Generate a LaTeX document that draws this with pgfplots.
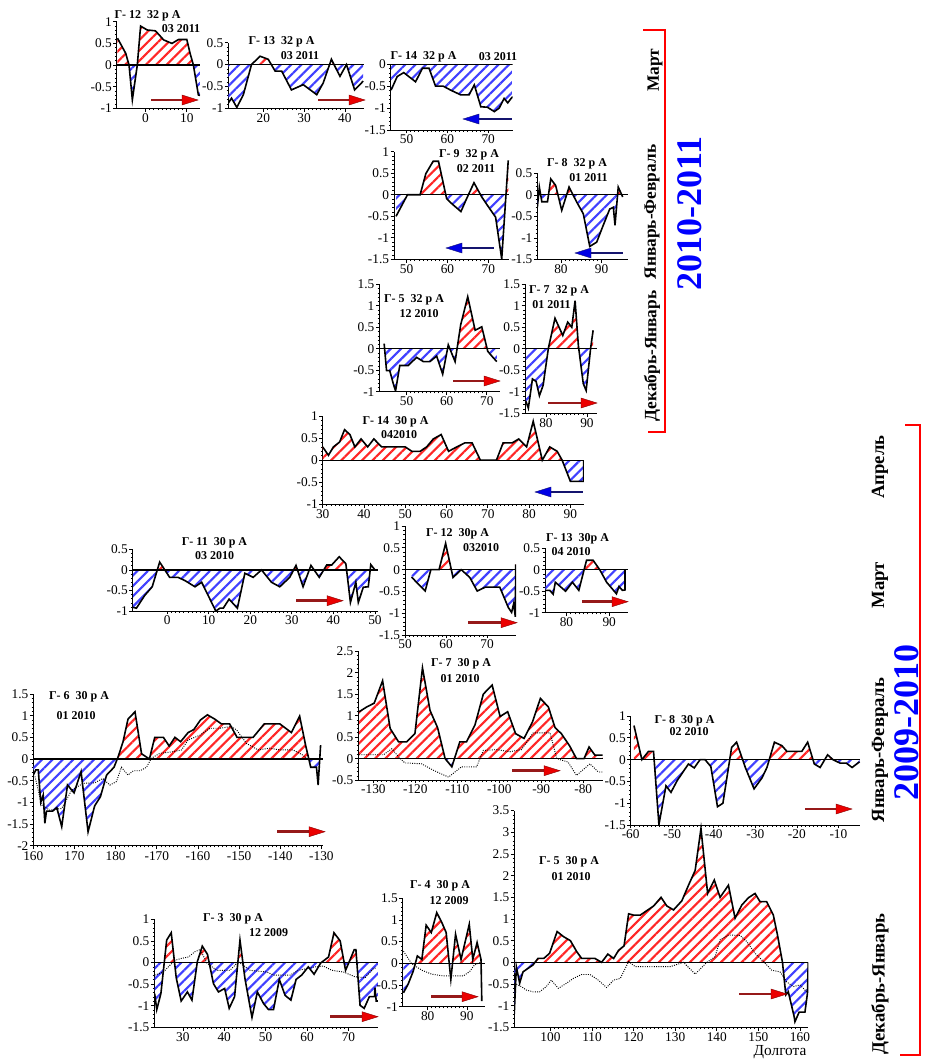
\documentclass[border=0pt]{standalone}
\usepackage{fontspec}
\setmainfont{Liberation Serif}
\usepackage{pgfplots}
\usepackage{pgfplotstable}
\pgfplotsset{compat=1.18}
\usetikzlibrary{patterns.meta}
\definecolor{darr}{RGB}{150,25,25}
\definecolor{harr}{RGB}{235,0,0}
\definecolor{dbarr}{RGB}{20,20,110}
\definecolor{hbarr}{RGB}{0,0,230}
\tikzset{
 rfill/.style={pattern={Lines[angle=45,distance=5.5pt,line width=1.6pt]}, pattern color=red!85},
 bfill/.style={pattern={Lines[angle=45,distance=5.5pt,line width=1.6pt]}, pattern color=blue!75},
 cur/.style={black,line width=1.2pt}, zer/.style={black,line width=0.9pt},
 dot/.style={black,densely dotted,line width=0.7pt}}
\pgfplotsset{panel/.style={scale only axis, anchor=north west,
 axis x line=bottom, axis y line=left, axis line style={-,line width=0.6pt},
 tick align=outside, major tick length=2.5pt, minor tick length=1.3pt,
 minor x tick num=9, minor y tick num=4, tick style={black,line width=0.5pt},
 ticklabel style={font=\fontsize{10}{11}\selectfont, inner sep=1pt},
 /pgf/number format/assume math mode=true}}
% #1 table, #2 xmin, #3 xmax, #4 ymin, #5 ymax
\newcommand{\panelfill}[5]{%
 \begin{scope}\clip (axis cs:#2,0) rectangle (axis cs:#3,#5);
 \addplot[rfill,draw=none] table {#1} \closedcycle;\end{scope}
 \begin{scope}\clip (axis cs:#2,#4) rectangle (axis cs:#3,0);
 \addplot[bfill,draw=none] table {#1} \closedcycle;\end{scope}
 \addplot[zer] coordinates {(#2,0)(#3,0)};
 \addplot[cur] table {#1};}
\newcommand{\rarr}[3]{%
 \draw[darr,line width=2.2pt] (#1,#3) -- (#2-13,#3);
 \draw[fill=harr,draw=red!50!black,line width=0.3pt] (#2-16,#3-5) -- (#2,#3) -- (#2-16,#3+5) -- cycle;}
\newcommand{\larr}[3]{%
 \draw[dbarr,line width=2.2pt] (#1+13,#3) -- (#2,#3);
 \draw[fill=hbarr,draw=dbarr,line width=0.3pt] (#1+16,#3-5) -- (#1,#3) -- (#1+16,#3+5) -- cycle;}

\pgfplotstableread{
x y
-6.8 0.62
-4.8 0.27
-4 0
-3.2 -0.8
-2 0
-1.2 0.9
0.4 0.81
2.4 0.79
4.4 0.58
6.4 0.5
8 0.59
10 0.59
10.8 0.27
11.6 0
12.8 -0.69
13.2 -0.7
}\tA
\pgfplotstableread{
x y
11.4 -0.88
12.2 -0.77
13.5 -0.98
15.1 -0.69
17.1 0
19.2 0.19
21.2 0.12
22.9 -0.15
24.5 -0.15
26.9 -0.58
29.8 -0.46
33.1 -0.69
34.7 -0.42
36.7 0.12
38.8 -0.27
40.4 0
42.4 -0.58
44.5 -0.38
}\tB
\pgfplotstableread{
x y
46.2 -0.59
47.7 -0.28
49.3 -0.19
52.2 -0.4
53.9 -0.09
55.5 -0.09
57.1 -0.5
59 -0.5
60.8 -0.59
63.3 -0.7
65.3 -0.7
66.6 -0.47
68.2 -0.97
69.8 -0.98
71.5 -1.08
72.7 -1.0
73.9 -0.78
74.8 -0.88
75.6 -0.78
76 -0.74
}\tC
\pgfplotstableread{
x y
47.4 -0.5
48.8 -0.25
50.2 0
53.3 0
54.7 0.49
56.5 0.78
57.8 0.78
59.8 -0.09
61.1 -0.21
63.3 -0.39
64.7 -0.09
66.5 0.28
68.4 -0.05
70.4 -0.33
71.8 -0.52
73.3 -1.49
74.9 0.8
}\tD
\pgfplotstableread{
x y
74.2 -0.29
74.7 0.18
75.3 -0.16
76.7 -0.16
77.5 0.37
78.7 0.22
80.2 -0.36
82 0.18
83.9 -0.17
85.5 -0.44
87.1 -1.2
88.8 -1.1
90.4 -0.71
92 -0.33
92.9 -0.29
93.3 -0.71
94.1 0.18
95.2 -0.05
}\tE
\pgfplotstableread{
x y
44.4 0.12
45 -0.51
45.8 -0.51
46.7 -0.82
47.25 -0.98
48.3 -0.39
50.4 -0.39
52.5 -0.2
54.2 -0.3
55.8 -0.3
57.5 -0.17
59 -0.59
60.4 0.09
62.1 -0.3
63.5 0.56
65.25 1.21
67.1 0.43
68.75 0.51
70.25 -0.06
71.25 -0.17
72.5 -0.3
}\tF
\pgfplotstableread{
x y
75.1 -1.22
75.7 -1.38
76.7 -0.7
77.6 -0.76
78.4 -1.09
79.3 -0.85
80.6 0.02
82.2 0.71
84.1 0.31
85.3 0.62
86.3 0.5
87.1 1.12
87.9 0.08
89.1 -0.81
89.8 -0.97
90.9 0.02
91.5 0.43
}\tG
\pgfplotstableread{
x y
30 0.3
31.4 0.11
32.6 0.3
34.1 0.41
35.3 0.69
36.6 0.58
37.8 0.3
39.3 0.48
40.9 0.3
42.4 0.48
44.3 0.3
50 0.3
51.6 0.2
53.6 0.2
55.2 0.3
56.8 0.48
58.7 0.58
60.5 0.2
62.5 0.3
64.4 0.39
66.2 0.39
68.2 0
72.1 0
73.7 0.39
75.9 0.39
77.5 0.48
79.4 0.3
81 0.88
83.2 0
85 0.3
86.8 0.2
88 0
90 -0.48
93.2 -0.48
93.2 0
}\tH
\pgfplotstableread{
x y
-8.2 -0.91
-7.4 -0.93
-5.4 -0.62
-3.6 -0.41
-1.8 0.19
0.6 -0.18
2.6 -0.18
4.3 -0.26
6.7 -0.41
8.3 -0.3
10.3 -0.71
11.7 -1.0
12.7 -0.93
13.5 -0.93
14.9 -0.71
16.9 -0.93
18.7 -0.08
20.7 -0.18
22.7 0
25.1 -0.3
27.1 -0.41
29.5 -0.18
31 0.11
32.7 -0.41
34.6 0.11
36.6 -0.18
38.4 0.12
39.6 0.12
41.4 0.32
43 0.15
44.1 -0.79
45.4 -0.3
46 -0.79
47.2 -0.42
48.4 -0.41
49 0.13
50 0
}\tI
\pgfplotstableread{
x y
51.6 -0.17
53.1 -0.32
54.9 -0.49
56.3 0
58.3 0
59.9 0.6
61.7 -0.18
63.7 0
65.8 -0.18
67.6 -0.49
69.6 -0.4
73.1 -0.4
75.2 -0.87
76 -0.98
76.5 -0.78
76.9 -1.08
77 0.12
}\tJ
\pgfplotstableread{
x y
75.1 -0.48
76.1 -0.48
76.9 -0.57
77.4 -0.29
79.8 -0.5
81.4 -0.29
82.9 -0.48
84.7 0.22
86.25 0.22
87.8 0
89.4 -0.29
91.7 -0.56
92.3 -0.39
93.1 -0.48
93.7 -0.47
93.7 0
}\tK
\pgfplotstableread{
x y
160 -0.37
160.6 -0.25
161.2 -0.25
161.8 -1.0
162.4 -0.83
162.8 -1.48
163.2 -1.2
164.7 -1.2
165.7 -1.12
166.9 -1.56
168.3 -0.6
169.9 -0.78
171.6 -0.29
173.3 -1.68
174.9 -1.08
176.3 -0.87
177.8 -0.37
179.6 -0.19
180.6 0.05
181.8 0.4
183 0.92
184.7 1.09
186.3 0.12
188.2 0
189.5 0.5
191.6 0.5
193 0.3
194.4 0.5
195.8 0.4
197.6 0.61
199 0.68
200.6 0.9
202.3 1.02
204.1 0.92
205.7 0.81
207.7 0.81
209.5 0.5
213.4 0.5
216.1 0.81
219.9 0.81
222.7 0.61
224.7 0.99
226.2 0.3
227.4 -0.19
228.8 -0.19
229.2 -0.6
229.8 0.32
}\tL
\pgfplotstableread{
x y
-133.4 1.09
-131.6 1.2
-129.8 1.29
-127.8 1.81
-126 0.7
-124 0.39
-122.1 0.39
-120.1 0.58
-118.3 2.11
-116.5 1.12
-114.7 0.72
-112.9 0
-111.3 -0.19
-109.4 0.39
-107.8 0.39
-105.8 0.78
-103.8 1.5
-101.7 1.71
-99.8 0.98
-98 1.09
-96.1 0.58
-94.1 0.47
-92.1 0.85
-90.2 1.4
-88.3 1.2
-86.7 0.72
-85.2 0.58
-83.2 0.29
-81.6 0
-79.8 0
-78.6 0.27
-77.2 0.08
-75.4 0.08
}\tM
\pgfplotstableread{
x y
-59.2 0.78
-57.3 0
-55.7 0.19
-54.5 0.19
-53.2 -1.49
-51.5 -0.6
-50.3 -0.75
-48.8 -0.48
-46.1 -0.1
-44.7 -0.19
-43.3 0
-42.1 0
-40.7 -0.16
-39.1 -1.08
-37.8 -1.0
-35.7 0.28
-34.5 0.4
-32.4 -0.18
-30.3 -0.67
-28.4 -0.42
-27.2 -0.18
-25.4 0.4
-23.6 0.32
-22.4 0.19
-18.8 0.19
-17.4 0.4
-15.8 -0.1
-14.4 -0.18
-12.6 0.11
-11.3 0
-9.6 -0.08
-8.1 -0.08
-6.7 -0.18
-4.9 -0.05
}\tN
\pgfplotstableread{
x y
23.2 -0.72
23.7 -1.09
24.7 -0.72
26.1 0.52
27.2 0.69
28.4 -0.35
29.6 -0.89
31.1 -0.68
32.2 -0.87
33.5 0.02
34.7 0.38
35.95 0.19
37.4 -0.49
38.6 -0.68
40.1 -0.6
41.2 -1.06
42.5 -0.79
43.8 0.52
45 -0.37
46.7 -1.27
48 -0.68
49.5 -0.95
50.7 -1.09
51.9 -1.09
53.3 -0.39
54.7 -0.76
56.1 -0.87
57.35 -0.39
58.7 -0.29
60.3 -0.1
61.7 -0.27
63.3 -0.01
65.2 0.13
66.5 0.69
68 0.5
69.3 -0.18
70.5 0.09
71.4 0.3
71.8 0.3
72.8 -0.99
73.8 -1.06
75.05 -0.79
76.3 -0.79
76.4 -0.58
76.7 -0.89
77.1 -0.89
}\tO
\pgfplotstableread{
x y
73.8 -0.68
75 -0.48
76.3 -0.18
77.35 0.17
78.5 0.09
79.6 0.88
80.9 0.71
82.3 1.17
83.6 0.94
84.7 0.71
85.9 -0.37
87.1 0.67
88.5 0.09
90.6 0.9
91.5 0.09
92.6 0.48
93.6 0.09
93.8 -0.87
}\tP
\pgfplotstableread{
x y
91.3 -1.19
91.8 -0.1
92.6 -0.48
93.4 -0.22
94.6 -0.14
95.8 -0.06
97 0.09
98.4 0.09
99.8 0.21
101.6 0.71
103.2 0.59
104.8 0.5
106.3 0.25
107.5 0.09
110.7 0.09
112.3 0
113.8 0.19
115.2 0.09
116.4 0.28
117.7 0.38
118.8 1.12
120 1.09
121.6 1.09
124.8 1.3
126.6 1.5
128 1.3
129.6 1.21
131.6 1.42
133.2 1.78
134.8 2.12
136.2 3.09
137.8 1.59
139.4 1.9
140.8 1.5
142.8 1.78
144.4 1.02
146 1.32
147.6 1.49
149.2 1.59
150.4 1.4
152 1.4
153.6 1.09
154.6 0.63
155.8 0
156.6 -0.75
157.2 -0.68
158.6 -1.25
158.8 -1.37
159.8 -1.15
161.2 -1.15
161.8 -0.72
162 0
}\tQ
\begin{document}
\begin{tikzpicture}
\path[use as bounding box] (0,0) rectangle (696pt,-795.75pt);
% P1
\begin{axis}[panel, at={(87.5pt,-16.3pt)}, width=62.5pt, height=65pt, xmin=-7, xmax=13.2, ymin=-1, ymax=1, xtick={0,10}, ytick={-1,-0.5,0,0.5,1}]
\panelfill{\tA}{-7}{13.2}{-1}{1}
\end{axis}
% P2
\begin{axis}[panel, at={(171.2pt,-32pt)}, width=101.8pt, height=49.2pt, xmin=11.4, xmax=44.7, ymin=-1, ymax=0.5, xtick={20,30,40}, ytick={-1,-0.5,0,0.5}]
\panelfill{\tB}{11.4}{44.7}{-1}{0.5}
\end{axis}
% P3
\begin{axis}[panel, at={(293pt,-48.2pt)}, width=91.5pt, height=49.3pt, xmin=46.1, xmax=76, ymin=-1.5, ymax=0, xtick={50,60,70}, ytick={-1.5,-1,-0.5,0}]
\panelfill{\tC}{46.1}{76}{-1.5}{0.1}
\end{axis}
% P4
\begin{axis}[panel, at={(295.5pt,-113.8pt)}, width=86.3pt, height=80.7pt, xmin=46.9, xmax=75.1, ymin=-1.5, ymax=1, xtick={50,60,70}, ytick={-1.5,-1,-0.5,0,0.5,1}]
\panelfill{\tD}{46.9}{75.1}{-1.5}{1}
\end{axis}
% P5
\begin{axis}[panel, at={(403pt,-130pt)}, width=68pt, height=64.5pt, xmin=74.2, xmax=96.5, ymin=-1.5, ymax=0.5, xtick={80,90}, ytick={-1.5,-1,-0.5,0,0.5}]
\panelfill{\tE}{74.2}{96.5}{-1.5}{0.5}
\end{axis}
% P6
\begin{axis}[panel, at={(284.5pt,-213.2pt)}, width=90.5pt, height=80.6pt, xmin=43.2, xmax=73.3, ymin=-1, ymax=1.5, xtick={50,60,70}, ytick={-1,-0.5,0,0.5,1,1.5}]
\panelfill{\tF}{43.2}{73.3}{-1}{1.5}
\end{axis}
% P7
\begin{axis}[panel, at={(393.8pt,-213.2pt)}, width=53.8pt, height=96.8pt, xmin=74.9, xmax=92.4, ymin=-1.5, ymax=1.5, xtick={80,90}, ytick={-1.5,-1,-0.5,0,0.5,1,1.5}]
\panelfill{\tG}{74.9}{92.4}{-1.5}{1.5}
\end{axis}
% P8
\begin{axis}[panel, at={(242pt,-312pt)}, width=196pt, height=66.2pt, xmin=30, xmax=93.3, ymin=-1, ymax=1, xtick={30,40,...,90}, ytick={-1,-0.5,0,0.5,1}]
\panelfill{\tH}{30}{93.3}{-1}{1}
\end{axis}
% P9
\begin{axis}[panel, at={(99.5pt,-412pt)}, width=184.2pt, height=46.3pt, xmin=-8.3, xmax=50.8, ymin=-1, ymax=0.5, xtick={0,10,...,50}, ytick={-1,-0.5,0,0.5}]
\panelfill{\tI}{-8.3}{50.8}{-1}{0.5}
\end{axis}
% P10
\begin{axis}[panel, at={(303.8pt,-394.5pt)}, width=83.3pt, height=81.8pt, xmin=50, xmax=77.1, ymin=-1.5, ymax=1, xtick={50,60,70}, ytick={-1.5,-1,-0.5,0,0.5,1}]
\panelfill{\tJ}{50}{77.1}{-1.5}{1}
\end{axis}
% P11
\begin{axis}[panel, at={(408.8pt,-411.2pt)}, width=62.5pt, height=48.3pt, xmin=75, xmax=94.5, ymin=-1, ymax=0.5, xtick={80,90}, ytick={-1,-0.5,0,0.5}]
\panelfill{\tK}{75}{94.5}{-1}{0.5}
\end{axis}
% P12
\begin{axis}[panel, at={(25pt,-520.5pt)}, width=217.3pt, height=113.8pt, xmin=160, xmax=230.4, ymin=-2, ymax=1.5, xtick={160,170,...,230}, xticklabels={160,170,180,-170,-160,-150,-140,-130}, ytick={-2,-1.5,...,1.5}, xticklabel style={yshift=-1pt}]
\panelfill{\tL}{160}{230.4}{-2}{1.5}
\addplot[dot] coordinates {(160.4,-0.4)(161.2,-0.72)(162,-1.06)(164,-1.18)(166.9,-1.14)(169.3,-0.72)(172.1,-0.56)(174.9,-0.55)(176.9,-0.45)(178.6,-0.6)(180.2,-0.52)(181.4,-0.19)(183,-0.37)(184.3,-0.27)(185.9,-0.27)(187.5,-0.19)(188.7,0.02)(190.7,0.13)(194,0.17)(196,0.21)(197.6,0.44)(200.5,0.55)(202.9,0.71)(205.3,0.71)(208.1,0.75)(209.4,0.67)(211.8,0.36)(214.6,0.21)(217.4,0.25)(219.9,0.21)(223.1,0.21)(225.5,0.09)(226.7,-0.02)};
\end{axis}
% P13
\begin{axis}[panel, at={(268.7pt,-488.3pt)}, width=183.8pt, height=96.8pt, xmin=-133.6, xmax=-75.2, ymin=-0.5, ymax=2.5, xtick={-130,-120,...,-80}, ytick={-0.5,0,...,2.5}]
\panelfill{\tM}{-133.6}{-75.2}{-0.5}{2.5}
\addplot[dot] coordinates {(-133.4,0.09)(-127.6,0.09)(-125.6,0.23)(-124,0.04)(-122.5,-0.1)(-118.5,-0.12)(-115.7,-0.27)(-112.1,-0.43)(-109,-0.19)(-105.4,-0.19)(-103.8,0.19)(-100.6,0.21)(-97.5,0.16)(-94.7,0.21)(-91.9,0.6)(-87.9,0.6)(-86.3,0)(-83.6,-0.08)(-81.6,-0.39)(-78.4,-0.12)(-76.4,-0.31)(-75.2,-0.31)};
\end{axis}
% P14
\begin{axis}[panel, at={(473pt,-537pt)}, width=172pt, height=81.8pt, xmin=-60, xmax=-4.8, ymin=-1.5, ymax=1, xtick={-60,-50,...,-10}, ytick={-1.5,-1,-0.5,0,0.5,1}]
\panelfill{\tN}{-60}{-4.8}{-1.5}{1}
\end{axis}
% P15
\begin{axis}[panel, at={(115.7pt,-689.5pt)}, width=168pt, height=81pt, xmin=23.1, xmax=77.2, ymin=-1.5, ymax=1, xtick={30,40,...,70}, ytick={-1.5,-1,-0.5,0,0.5,1}]
\panelfill{\tO}{23.1}{77.2}{-1.5}{1}
\addplot[dot] coordinates {(23.2,-0.29)(25.3,-0.22)(26.9,-0.06)(28.1,0.05)(29.4,0.09)(31.4,0.13)(32.9,0.25)(34.2,0.3)(35.8,-0.01)(38.2,-0.18)(41.4,-0.18)(43.4,0.02)(46.25,-0.18)(50.3,-0.22)(51.9,-0.29)(55.9,-0.29)(57.9,-0.18)(61.9,-0.1)(63.9,-0.08)(66,-0.18)(68.8,-0.22)(71.6,-0.33)(74,-0.35)(76,-0.14)(76.8,-0.12)};
\end{axis}
% P16
\begin{axis}[panel, at={(302pt,-673.7pt)}, width=61.7pt, height=81.3pt, xmin=73.6, xmax=94.6, ymin=-1, ymax=1.5, xtick={80,90}, ytick={-1,-0.5,0,0.5,1,1.5}]
\panelfill{\tP}{73.6}{94.6}{-1}{1.5}
\addplot[dot] coordinates {(73.8,0.28)(75.9,-0.01)(78.5,-0.16)(81,-0.25)(84,-0.29)(89.1,-0.29)(90.7,-0.19)(91.9,-0.04)(93.4,0.02)};
\end{axis}
% P17
\begin{axis}[panel, at={(385.7pt,-608pt)}, width=220.5pt, height=162.5pt, xmin=91.3, xmax=162, ymin=-1.5, ymax=3.5, xtick={100,110,...,160}, ytick={-1.5,-1,...,3.5}]
\panelfill{\tQ}{91.3}{162}{-1.5}{3.5}
\addplot[dot] coordinates {(91.3,-0.48)(93,-0.56)(94.2,-0.64)(95.8,-0.68)(97.4,-0.68)(99,-0.56)(100.2,-0.41)(101.9,-0.6)(103.9,-0.48)(105.5,-0.37)(107.5,-0.28)(109.5,-0.28)(111.5,-0.41)(113.5,-0.58)(115.2,-0.41)(116.8,-0.37)(118.8,0.02)(120.4,-0.1)(124,-0.1)(128.8,-0.1)(132,0)(134.8,-0.27)(137.6,0)(139.6,0.13)(140.8,0.52)(142.8,0.63)(145.6,0.62)(147.2,0.48)(149.2,0.21)(151.2,0.02)(153.2,-0.18)(155.2,-0.22)(156.8,-0.45)(158.4,-0.56)(160,-0.52)(161.6,-0.68)};
\end{axis}
% annotations
\begin{scope}[x=0.75pt,y=-0.75pt]
\tikzset{tt/.style={font=\bfseries\fontsize{9}{10}\selectfont, inner sep=0pt}}
\node[tt] at (147.5,15.5) {Г- 12\ \ 32 р А}; \node[tt] at (181,29) {03 2011};
\node[tt] at (281.5,42) {Г- 13\ \ 32 р А}; \node[tt] at (300,56) {03 2011};
\node[tt] at (423.5,57) {Г- 14\ \ 32 р А}; \node[tt] at (498,57) {03 2011};
\node[tt] at (469,155) {Г- 9\ \ 32 р А}; \node[tt] at (476,169) {02 2011};
\node[tt] at (577,164) {Г- 8\ \ 32 р А}; \node[tt] at (588.5,178) {01 2011};
\node[tt] at (414,300) {Г- 5\ \ 32 р А}; \node[tt] at (419,314) {12 2010};
\node[tt] at (559,291) {Г- 7\ \ 32 р А}; \node[tt] at (551.5,305) {01 2011};
\node[tt] at (395.5,422) {Г- 14\ \ 30 р А}; \node[tt] at (399,435) {042010};
\node[tt] at (214.5,543) {Г- 11\ \ 30 р А}; \node[tt] at (214.5,556) {03 2010};
\node[tt] at (457.5,534) {Г- 12\ \ 30р А}; \node[tt] at (481,548) {032010};
\node[tt] at (577.5,539) {Г- 13\ \ 30р А}; \node[tt] at (571,552) {04 2010};
\node[tt] at (79,697) {Г- 6\ \ 30 р А}; \node[tt] at (76,716) {01 2010};
\node[tt] at (461,664) {Г- 7\ \ 30 р А}; \node[tt] at (460,679) {01 2010};
\node[tt] at (684.5,721) {Г- 8\ \ 30 р А}; \node[tt] at (689,732) {02 2010};
\node[tt] at (233,919) {Г- 3\ \ 30 р А}; \node[tt] at (268.5,933) {12 2009};
\node[tt] at (440,886) {Г- 4\ \ 30 р А}; \node[tt] at (449,901) {12 2009};
\node[tt] at (569,862) {Г- 5\ \ 30 р А}; \node[tt] at (571,877) {01 2010};
\rarr{151}{198}{100} \rarr{318}{365}{100}
\larr{463}{512}{119} \larr{446}{494}{248} \larr{575}{623}{253}
\rarr{453}{500}{381} \rarr{548}{597}{403}
\larr{535}{583}{492}
\rarr{296}{343}{600.7} \rarr{468}{517}{622.7} \rarr{582}{628}{601.7}
\rarr{277}{325}{831.7} \rarr{512}{560}{770.7} \rarr{805}{852}{809}
\rarr{330}{378}{1016.7} \rarr{431}{478}{996.7} \rarr{739}{787}{994}
\draw[red,line width=1.2pt] (643,30) -- (665,30) -- (665,432) -- (648,432);
\draw[red,line width=1.2pt] (905,425) -- (920,425) -- (920,1055) -- (900,1055);
\tikzset{ml/.style={rotate=90, font=\bfseries\fontsize{14}{14}\selectfont, inner sep=0pt},
 mls/.style={rotate=90, font=\bfseries\fontsize{13}{13}\selectfont, inner sep=0pt}}
\node[mls] at (655,70) {Март};
\node[mls] at (652,212) {Январь-Февраль};
\node[mls] at (652,356) {Декабрь-Январь};
\node[ml] at (880,467) {Апрель};
\node[ml] at (880,585) {Март};
\node[ml] at (880,750) {Январь-Февраль};
\node[ml] at (880,984) {Декабрь-Январь};
\node[rotate=90, font=\bfseries\fontsize{27}{27}\selectfont, text=blue, inner sep=0pt] at (690,213) {2010-2011};
\node[rotate=90, font=\bfseries\fontsize{27}{27}\selectfont, text=blue, inner sep=0pt] at (907,722) {2009-2010};
\node[font=\fontsize{11.5}{12}\selectfont, inner sep=0pt] at (780,1052) {Долгота};
\end{scope}
\end{tikzpicture}
\end{document}
